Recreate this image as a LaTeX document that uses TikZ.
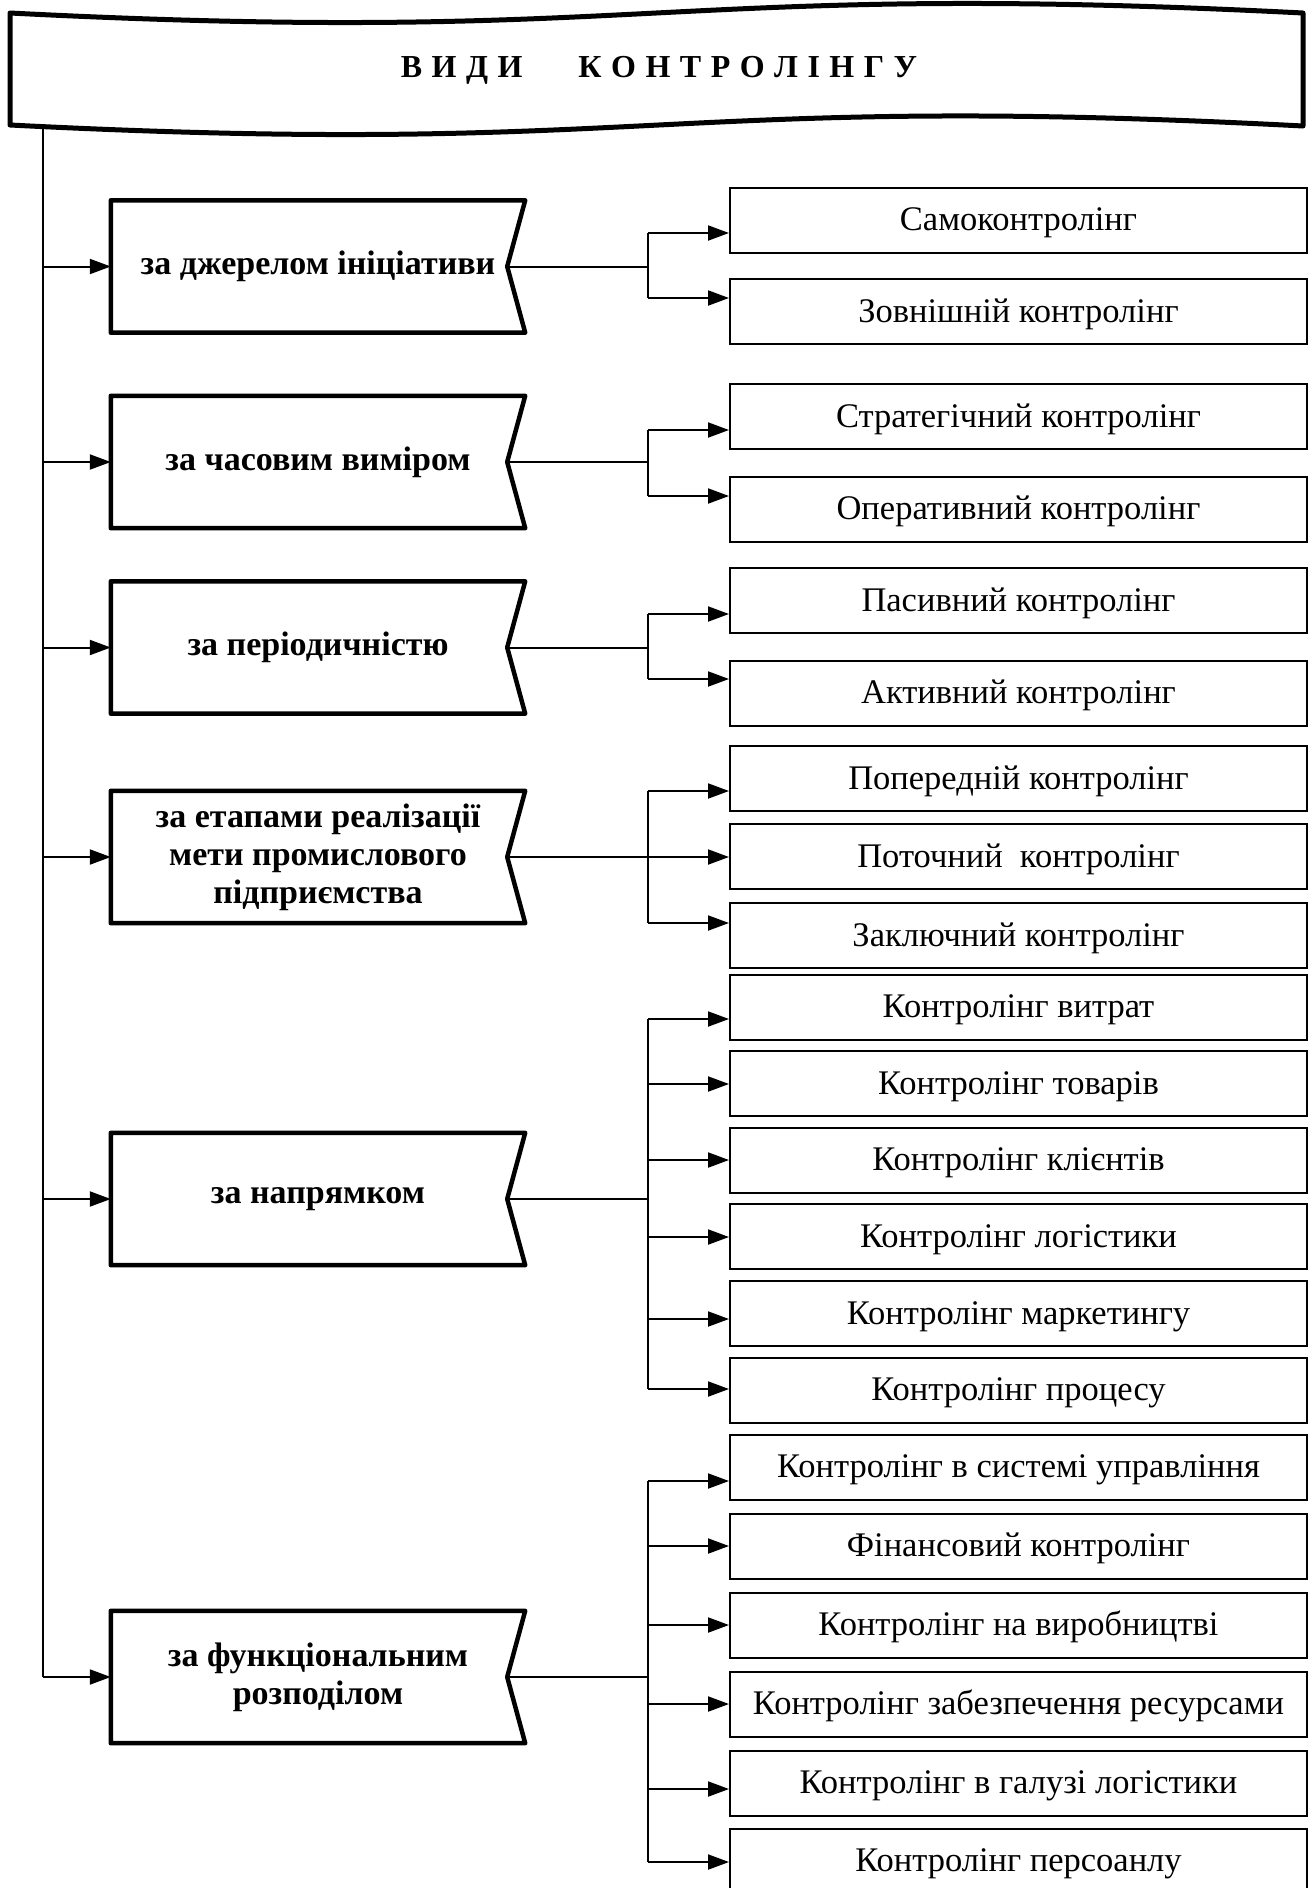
\documentclass[tikz,border=0pt]{standalone}
\usepackage{fontspec}
\setmainfont{Liberation Serif}
\usetikzlibrary{arrows.meta}

\tikzset{
  conn/.style={line width=2pt},
  arr/.style={line width=2pt, -{Triangle[length=21pt,width=15pt]}},
  itembox/.style={draw, line width=2pt, minimum width=577pt, minimum height=65pt,
    inner sep=0pt, text height=29pt, text depth=8pt,
    font=\fontsize{34.5}{38}\selectfont},
  catnode/.style={minimum width=414pt, minimum height=132pt, inner sep=0pt,
    align=center, font=\fontsize{34}{38}\selectfont\bfseries},
  catframe/.style={line width=4.5pt, line join=round},
  headframe/.style={line width=5pt, line join=round, fill=white},
}
\newcommand{\ls}{\hspace{9.5pt}}

\begin{document}
\begin{tikzpicture}[x=1pt, y=-1pt]
\useasboundingbox (0,0) rectangle (1314,1888);

% trunk line on the left
\coordinate (trunktop) at (43,127);

% wavy title banner
\draw[headframe] (10,13) .. controls (656,46) and (656,-20) .. (1303,13)
  -- (1303,126) .. controls (656,92) and (656,158) .. (10,125) -- cycle;
\node[font=\fontsize{32}{36}\selectfont\bfseries] (title) at (659,70)
  {В\ls И\ls Д\ls И\hspace{56pt}К\ls О\ls Н\ls Т\ls Р\ls О\ls Л\ls І\ls Н\ls Г\ls У};

% classification criteria
\foreach \c/\yc/\t in {
  1/266.5/{за джерелом ініціативи},
  2/462/{за часовим виміром},
  3/647.5/{за періодичністю},
  4/857/{за етапами реалізації\\мети промислового\\підприємства},
  5/1199/{за напрямком},
  6/1677/{за функціональним\\розподілом}}{
  \node[catnode] (c\c) at (318,\yc) {\t};
  \draw[catframe] (c\c.north west) -- (c\c.north east) -- ([xshift=-18pt]c\c.east)
    -- (c\c.south east) -- (c\c.south west) -- cycle;
}

% kinds of controlling
\foreach \n/\yc/\ya/\t in {
  1/220/233/{Самоконтролінг},
  2/311.5/298/{Зовнішній контролінг},
  3/416.5/430/{Стратегічний контролінг},
  4/509/496/{Оперативний контролінг},
  5/600.5/614/{Пасивний контролінг},
  6/693/679/{Активний контролінг},
  7/778.5/791/{Попередній контролінг},
  8/856.5/857/{Поточний\ \ контролінг},
  9/935.5/923/{Заключний контролінг},
  10/1007/1019/{Контролінг витрат},
  11/1083.5/1084/{Контролінг товарів},
  12/1160/1160/{Контролінг клієнтів},
  13/1236.5/1237/{Контролінг логістики},
  14/1313.5/1319/{Контролінг маркетингу},
  15/1390/1389/{Контролінг процесу},
  16/1467/1481/{Контролінг в системі управління},
  17/1546/1546/{Фінансовий контролінг},
  18/1625/1625/{Контролінг на виробництві},
  19/1704/1704/{Контролінг забезпечення ресурсами},
  20/1783/1789/{Контролінг в галузі логістики},
  21/1861/1862/{Контролінг персоанлу}}{
  \node[itembox] (s\n) at (1018.5,\yc) {\t};
  \pgfmathsetmacro\dy{\yc-\ya}
  \coordinate (a\n) at ([yshift=\dy pt]s\n.west);
}

% trunk with arrows into each criterion
\draw[conn] (trunktop) -- (trunktop |- c6.west);
\foreach \c in {1,...,6}
  \draw[arr] (trunktop |- c\c.west) -- (c\c.west);

% branches from each criterion to its kinds
\foreach \c/\first/\last in {1/1/2, 2/3/4, 3/5/6, 4/7/9, 5/10/15, 6/16/21}{
  \coordinate (j\c) at ([xshift=123pt]c\c.east);
  \draw[conn] ([xshift=-18pt]c\c.east) -- (j\c);
  \draw[conn] (j\c |- a\first) -- (j\c |- a\last);
  \foreach \i in {\first,...,\last}
    \draw[arr] (j\c |- a\i) -- (a\i);
}
\end{tikzpicture}
\end{document}
